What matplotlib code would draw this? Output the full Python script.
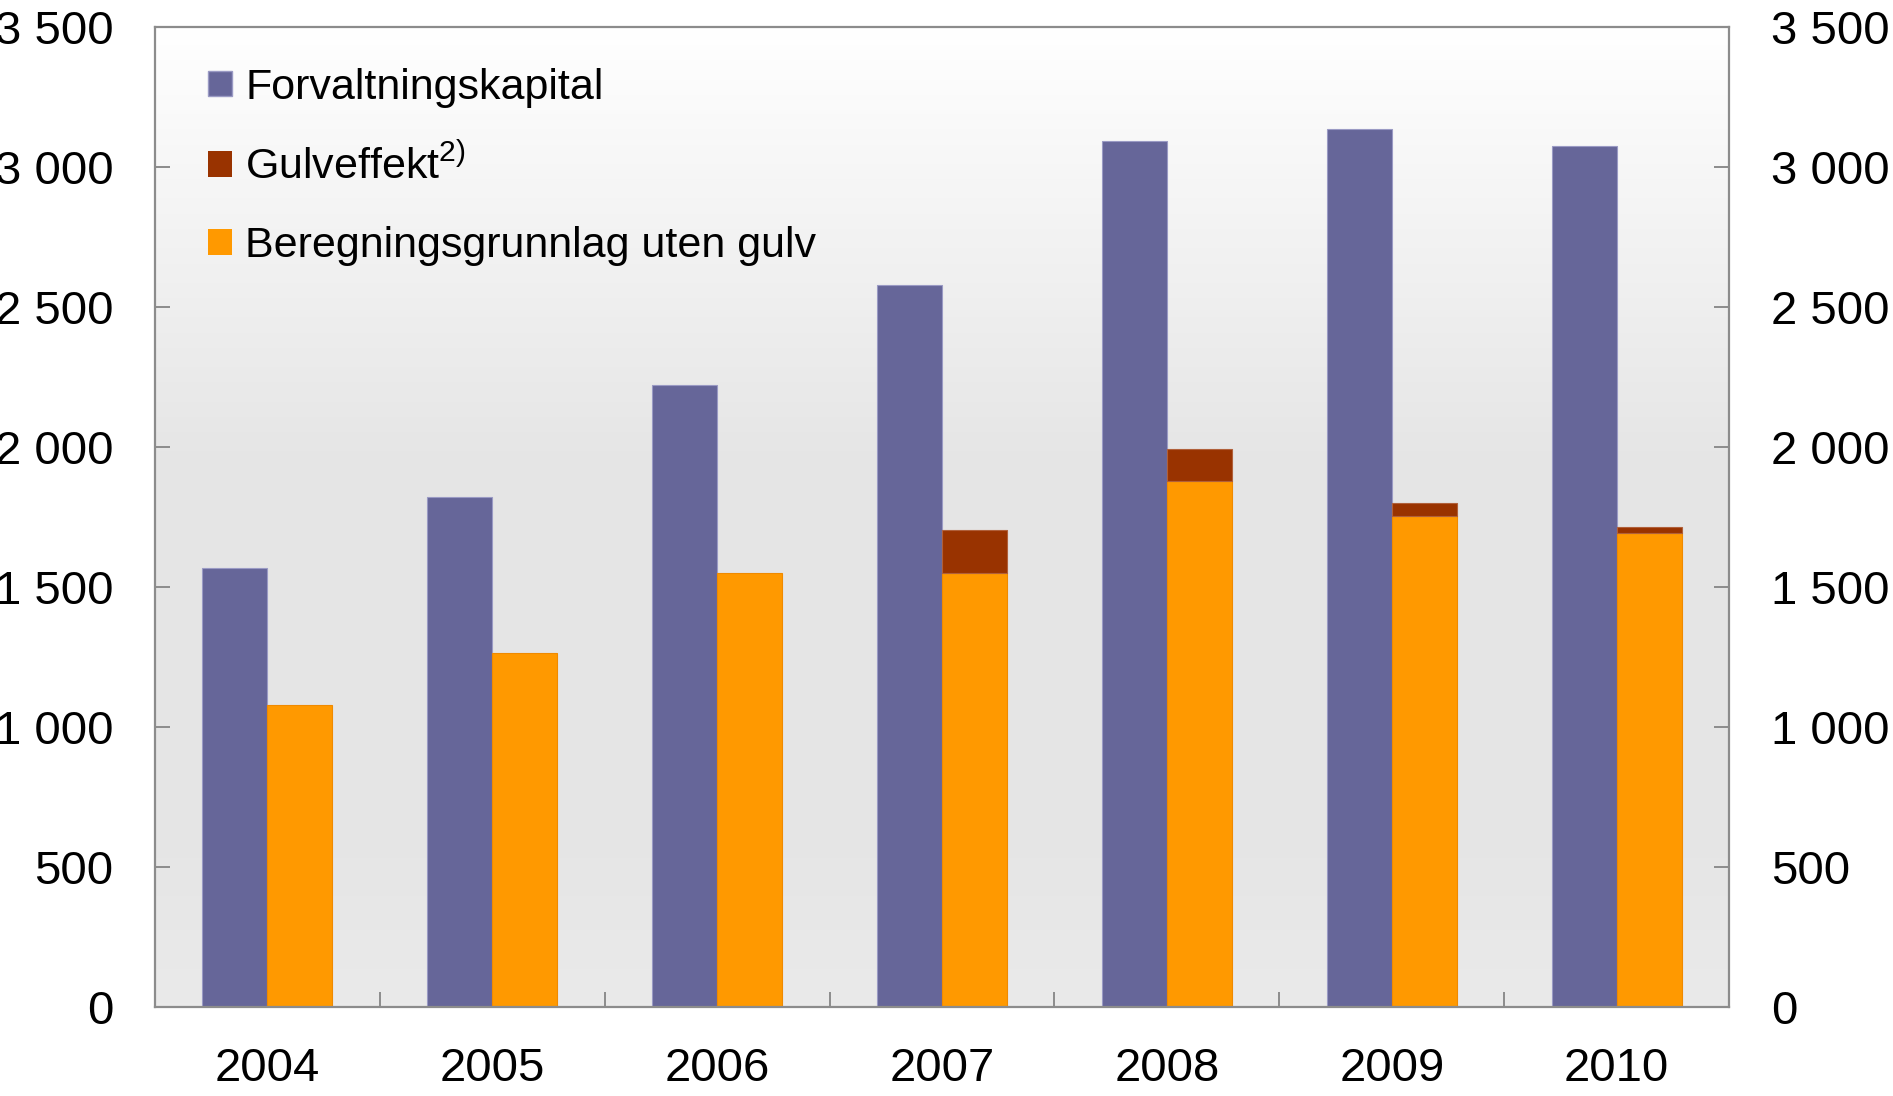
import numpy as np
import matplotlib
matplotlib.use("Agg")
import matplotlib.pyplot as plt
from matplotlib.patches import Patch
from matplotlib.colors import LinearSegmentedColormap

plt.rcParams['font.family'] = ['Liberation Sans', 'DejaVu Sans']
plt.rcParams['mathtext.fontset'] = 'custom'
plt.rcParams['mathtext.rm'] = 'Liberation Sans'

years = ['2004', '2005', '2006', '2007', '2008', '2009', '2010']
forvaltningskapital = [1569, 1823, 2222, 2580, 3091, 3134, 3074]
grunnlag_uten_gulv = [1078, 1264, 1551, 1551, 1878, 1755, 1693]
gulveffekt = [0, 0, 0, 153, 114, 44, 22]

labels = ['Forvaltningskapital', 'Gulveffekt$^{\\mathregular{2)}}$', 'Beregningsgrunnlag uten gulv']
c_purple = '#666699'
c_gulv = '#993300'
c_orange = '#FF9900'
c_axis = '#8c8c8c'

fig = plt.figure(figsize=(18.93, 10.96), dpi=100)
ax = fig.add_axes([0.0819, 0.0812, 0.8315, 0.8942])

x = np.arange(len(years))
w = 0.289

# background: white at the top fading to light grey
grad = LinearSegmentedColormap.from_list('bg', [(0, '#ffffff'), (0.45, '#e5e5e5'), (0.85, '#e6e6e6'), (1, '#eaeaea')])
ax.imshow(np.linspace(0, 1, 256).reshape(-1, 1), cmap=grad, aspect='auto',
          extent=[-0.5, 6.5, 0, 3500], origin='upper', zorder=0)

ax.bar(x - w / 2, forvaltningskapital, w, color=c_purple, edgecolor='#9a9ac4', linewidth=0.8, zorder=2)
ax.bar(x + w / 2, grunnlag_uten_gulv, w, color=c_orange, edgecolor='#f08a00', linewidth=0.8, zorder=2)
ax.bar(x + w / 2, gulveffekt, w, bottom=grunnlag_uten_gulv, color=c_gulv,
       edgecolor='#b0603a', linewidth=0.8 * (np.array(gulveffekt) > 0), zorder=2)

ax.set_xlim(-0.5, 6.5)
ax.set_ylim(0, 3500)

yt = np.arange(0, 3501, 500)
ax.set_yticks(yt, labels=[f"{v:,}".replace(',', ' ') for v in yt])
ax.set_xticks(x, labels=years)
ax.set_xticks(np.arange(0.5, 6, 1), minor=True)

ax.tick_params(axis='y', which='major', direction='in', length=11, width=1.4, color=c_axis,
               labelsize=34, pad=30, left=True, right=True, labelleft=True, labelright=True)
ax.tick_params(axis='x', which='major', length=0, labelsize=34, pad=29)
ax.tick_params(axis='x', which='minor', direction='in', length=11, width=1.4, color=c_axis)

for s in ax.spines.values():
    s.set_color(c_axis)
    s.set_linewidth(1.6)

handles = [Patch(facecolor=c_purple, edgecolor='#9a9ac4'),
           Patch(facecolor=c_gulv),
           Patch(facecolor=c_orange)]
ax.legend(handles, labels, loc='upper left', bbox_to_anchor=(0.023, 0.976), frameon=False,
          fontsize=31, handlelength=0.55, handleheight=0.55, handletextpad=0.3,
          labelspacing=0.88, borderaxespad=0)

fig.savefig('out.png', dpi=100)
